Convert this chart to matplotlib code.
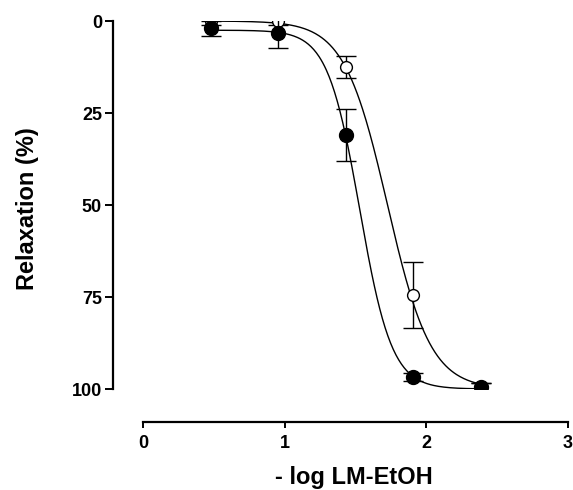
import numpy as np
import matplotlib
matplotlib.use("Agg")
import matplotlib.pyplot as plt

plt.rcParams["font.family"] = ["Liberation Sans", "DejaVu Sans"]
plt.rcParams["font.weight"] = "bold"

# -log concentration of LM-EtOH
log_conc = [0.477, 0.954, 1.431, 1.908, 2.386]

# open circles
open_mean = [0.0, 0.0, 12.5, 74.5, 99.5]
open_err = [1.0, 1.0, 3.0, 9.0, 1.0]

# filled circles
filled_mean = [2.0, 3.3, 31.0, 96.7, 99.5]
filled_err = [2.0, 4.0, 7.0, 1.0, 1.0]

# sigmoid fit parameters: bottom, top, logEC50, hill slope
open_fit = (0.0, 100.0, 1.726, 2.85)
filled_fit = (2.5, 100.0, 1.53, 3.83)


def sigmoid(x, bottom, top, logec50, hill):
    return bottom + (top - bottom) / (1.0 + 10 ** ((logec50 - x) * hill))


W, H = 573, 490
fig = plt.figure(figsize=(W / 100, H / 100), dpi=100)
ax = fig.add_axes([143 / W, 101 / H, 425 / W, 368 / H])

xs = np.linspace(log_conc[0], log_conc[-1], 300)
ax.plot(xs, sigmoid(xs, *open_fit), color="black", lw=1.0, zorder=2)
ax.plot(xs, sigmoid(xs, *filled_fit), color="black", lw=1.0, zorder=2)

ax.errorbar(log_conc, open_mean, yerr=open_err, fmt="o", ms=8.5,
            mfc="white", mec="black", mew=1.0, ecolor="black",
            elinewidth=1.0, capsize=7, capthick=1.0, zorder=3)
ax.errorbar(log_conc, filled_mean, yerr=filled_err, fmt="o", ms=10,
            mfc="black", mec="black", ecolor="black",
            elinewidth=1.0, capsize=7, capthick=1.0, zorder=4)

ax.set_xlim(0, 3)
ax.set_ylim(100, 0)
ax.set_xticks([0, 1, 2, 3])
ax.set_yticks([0, 25, 50, 75, 100])

for side in ["top", "right"]:
    ax.spines[side].set_visible(False)
# offset axes, in points (30 px and 33 px)
ax.spines["left"].set_position(("outward", 30 * 0.72))
ax.spines["bottom"].set_position(("outward", 33 * 0.72))
ax.spines["left"].set_linewidth(1.6)
ax.spines["bottom"].set_linewidth(1.6)

ax.tick_params(axis="y", direction="out", length=6, width=1.4,
               labelsize=13, pad=2)
ax.tick_params(axis="x", direction="out", length=4, width=1.4,
               labelsize=13, pad=5)
for lab in ax.get_xticklabels() + ax.get_yticklabels():
    lab.set_fontweight("bold")

fig.text(354 / W, 1 - 484 / H, "- log LM-EtOH", fontsize=17,
         fontweight="bold", ha="center", va="baseline")
fig.text(28 / W, 1 - 209 / H, "Relaxation (%)", fontsize=17,
         fontweight="bold", ha="center", va="center", rotation=90)

for sp in ax.spines.values():
    sp.set_clip_on(False)

fig.savefig("out.png", dpi=100)
